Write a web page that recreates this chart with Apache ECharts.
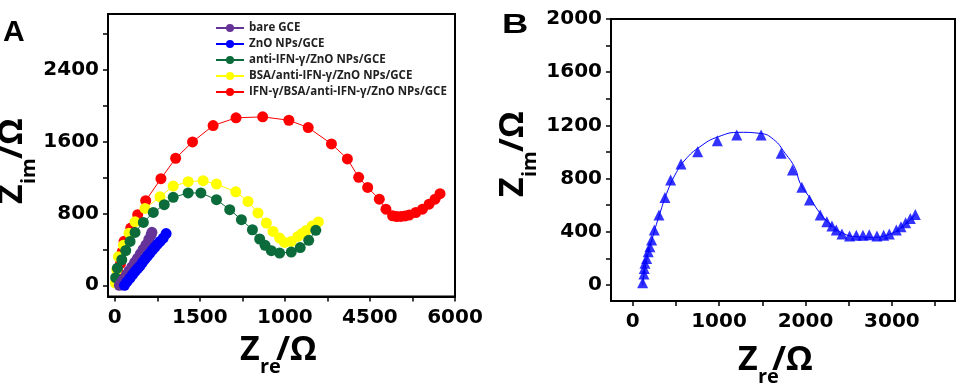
<!DOCTYPE html>
<html>
<head>
<meta charset="utf-8">
<script src="https://cdn.jsdelivr.net/npm/echarts@6/dist/echarts.min.js"></script>
<style>
html,body{margin:0;padding:0;background:#fff;}
#chart{width:962px;height:384px;}
</style>
</head>
<body>
<div id="chart"></div>
<script>
// ---------- Data ----------
// Panel A: Nyquist plots, [Zre, Zim] in ohm
const seriesNamesA = ['bare GCE', 'ZnO NPs/GCE', 'anti-IFN-γ/ZnO NPs/GCE', 'BSA/anti-IFN-γ/ZnO NPs/GCE', 'IFN-γ/BSA/anti-IFN-γ/ZnO NPs/GCE'];
const seriesColorsA = ['#663399', '#0000ff', '#0b6b3a', '#ffff00', '#ff0000'];

const bareGCE = [[80,0],[120,35],[160,75],[205,115],[250,160],[300,205],[350,255],[400,300],[450,350],[500,400],[550,450],[600,510],[640,560],[655,590]];
const znoGCE = [[170,0],[215,40],[269,80],[313,118],[357,154],[401,186],[445,217],[489,255],[533,292],[577,326],[621,359],[665,393],[709,426],[753,457],[797,488],[855,525],[905,575]];
const antiIFN = [[15,85],[45,190],[123,284],[193,387],[269,488],[357,588],[503,700],[679,811],[872,897],[1030,979],[1294,1028],[1518,1028],[1793,953],[2027,842],[2233,730],[2427,618],[2555,515],[2650,445],[2761,385],[2907,358],[3112,370],[3270,420],[3420,500],[3545,612]];
const bsaAnti = [[10,25],[35,170],[64,318],[152,446],[250,580],[357,706],[533,855],[797,985],[1030,1104],[1294,1153],[1558,1164],[1793,1127],[2133,1040],[2349,934],[2525,805],[2673,693],[2790,600],[2907,526],[2995,477],[3112,488],[3229,544],[3300,575],[3376,610],[3480,660],[3590,705]];
const ifnBsa = [[50,30],[75,130],[100,240],[130,370],[164,489],[281,637],[404,786],[545,942],[814,1187],[1073,1414],[1371,1596],[1734,1778],[2138,1864],[2608,1875],[3070,1837],[3411,1756],[3821,1574],[4102,1407],[4301,1202],[4460,1089],[4665,958],[4782,847],[4899,773],[4970,765],[5046,767],[5120,772],[5192,781],[5309,810],[5426,847],[5543,903],[5648,958],[5736,1020]];

const xTicksA = [0,1500,3000,4500,6000];
const xTickLabelsA = ['0','1500','1000','4500','6000'];
const xMinorA = [0,750,1500,2250,3000,3750,4500,5250,6000];
const yTicksA = [0,800,1600,2400];
const yMinorA = [0,400,800,1200,1600,2000,2400,2800];

// Panel B: measured points (triangles) and fitted curve
const measuredB = [[116,17],[131,83],[135,125],[143,163],[162,200],[181,250],[200,288],[220,338],[251,414],[305,526],[374,659],[440,789],[560,910],[753,1002],[980,1085],[1205,1128],[1487,1128],[1719,990],[1849,865],[1958,735],[2046,639],[2170,526],[2247,476],[2306,444],[2356,414],[2422,383],[2510,368],[2588,374],[2665,374],[2738,378],[2827,368],[2904,374],[2970,383],[3051,414],[3105,438],[3159,468],[3213,501],[3271,531]];
const fitB = [[116,0],[162,188],[239,376],[316,539],[394,689],[490,827],[606,940],[780,1040],[992,1115],[1243,1148],[1475,1140],[1630,1095],[1765,990],[1881,877],[1939,765],[2055,652],[2170,539],[2286,459],[2422,393],[2596,363],[2788,359],[2943,376],[3097,426],[3270,530]];

const xTicksB = [0,1000,2000,3000];
const xMinorB = [0,500,1000,1500,2000,2500,3000,3500];
const yTicksB = [0,400,800,1200,1600,2000];
const yMinorB = [0,200,400,600,800,1000,1200,1400,1600,1800,2000];

// ---------- Chart ----------
const chart = echarts.init(document.getElementById('chart'), null, {renderer:'canvas'});
const tickFont = {fontFamily:'DejaVu Sans', fontWeight:'bold', fontSize:20, color:'#000'};
const axisLineStyle = {color:'#000', width:2};

function xAxisCfg(grid, min, max, labels, labelTexts, ticks){
  return {
    type:'value', gridIndex:grid, min:min, max:max,
    axisLine:{show:true, onZero:false, lineStyle:axisLineStyle},
    axisTick:{show:true, inside:false, length:5, lineStyle:{color:'#000', width:1.5}, customValues:ticks},
    axisLabel:Object.assign({margin:11, customValues:labels, showMinLabel:true, showMaxLabel:true,
      formatter:function(v){ const i = labels.indexOf(v); return i>=0 ? labelTexts[i] : ''; }}, tickFont),
    splitLine:{show:false}
  };
}
function yAxisCfg(grid, min, max, labels, ticks){
  return {
    type:'value', gridIndex:grid, min:min, max:max,
    axisLine:{show:true, onZero:false, lineStyle:axisLineStyle},
    axisTick:{show:true, inside:false, length:5, lineStyle:{color:'#000', width:1.5}, customValues:ticks},
    axisLabel:Object.assign({margin:9, customValues:labels, showMinLabel:true, showMaxLabel:true,
      formatter:function(v){ return String(v); }}, tickFont),
    splitLine:{show:false}
  };
}

const dataA = [ifnBsa, bsaAnti, antiIFN, bareGCE, znoGCE];
const idxA = [4,3,2,0,1];
const seriesA = dataA.map(function(d, k){
  const i = idxA[k];
  return {
    name: seriesNamesA[i], type:'line', xAxisIndex:0, yAxisIndex:0,
    data:d, symbol:'circle', symbolSize:11, showSymbol:true,
    itemStyle:{color:seriesColorsA[i]},
    lineStyle:{color:seriesColorsA[i], width:1},
    animation:false
  };
});

function title(x, y, sub, subDx, restDx, rot){
  return {
    type:'group', x:x, y:y, rotation:rot||0,
    children:[
      {type:'text', x:0, y:0, style:{text:'Z', font:'bold 34px "Open Sans"', fill:'#000', verticalAlign:'middle', align:'left'}},
      {type:'text', x:subDx, y:17, style:{text:sub, font:'bold 20px "Open Sans"', fill:'#000', verticalAlign:'middle', align:'left'}},
      {type:'text', x:restDx, y:0, style:{text:'/Ω', font:'bold 34px "Open Sans"', fill:'#000', verticalAlign:'middle', align:'left'}}
    ]
  };
}

const option = {
  animation:false,
  backgroundColor:'#fff',
  grid:[
    {left:108, top:14, width:347, height:282.5, show:true, borderColor:'#000', borderWidth:2, containLabel:false},
    {left:611, top:19, width:344, height:282, show:true, borderColor:'#000', borderWidth:2, containLabel:false}
  ],
  xAxis:[
    xAxisCfg(0, -120, 6000, xTicksA, xTickLabelsA, xMinorA),
    xAxisCfg(1, -250, 3730, xTicksB, xTicksB.map(String), xMinorB)
  ],
  yAxis:[
    yAxisCfg(0, -125, 3020, yTicksA, yMinorA),
    yAxisCfg(1, -120, 2000, yTicksB, yMinorB)
  ],
  legend:{
    orient:'vertical', left:210, top:17, itemWidth:28, itemHeight:10, itemGap:4,
    data:seriesNamesA,
    textStyle:{fontFamily:'Open Sans', fontWeight:'bold', fontSize:11.5, lineHeight:12, color:'#222'},
    lineStyle:{width:2}
  },
  series: seriesA.concat([
    {name:'fit', type:'line', xAxisIndex:1, yAxisIndex:1, data:fitB, smooth:true, showSymbol:false, symbol:'none',
     lineStyle:{color:'#0000ff', width:1}, animation:false},
    {name:'measured', type:'scatter', xAxisIndex:1, yAxisIndex:1, data:measuredB, symbol:'triangle', symbolSize:11,
     itemStyle:{color:'#0000ff'}, animation:false}
  ]),
  graphic:[
    {type:'text', left:3, top:18, style:{text:'A', font:'bold 30px "Liberation Sans"', fill:'#000'}},
    {type:'text', x:502, y:11, scaleX:1.3, style:{text:'B', font:'bold 28px "Liberation Sans"', fill:'#000'}},
    title(240, 350, 're', 20, 36, 0),
    title(12, 204, 'im', 20, 45, Math.PI/2),
    title(738, 360, 're', 20, 34, 0),
    title(513, 197, 'im', 20, 45, Math.PI/2)
  ]
};
chart.setOption(option);
</script>
</body>
</html>
